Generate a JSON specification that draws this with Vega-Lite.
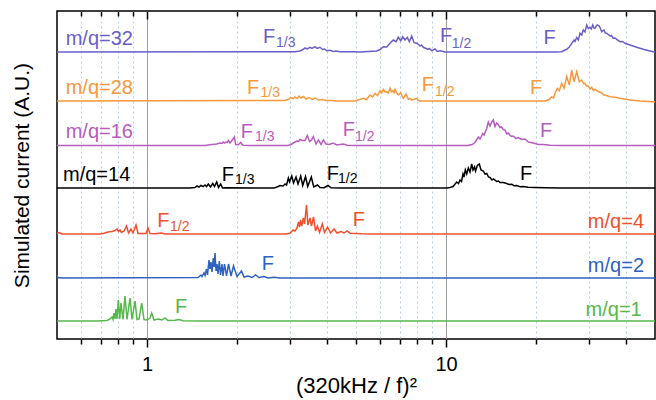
{
"$schema":"https://vega.github.io/schema/vega-lite/v6.json",
"width":598,"height":328,
"autosize":{"type":"none"},
"padding":{"left":57,"top":11,"right":1,"bottom":61},
"background":"white",
"config":{"font":"Liberation Sans","view":{"stroke":"black","strokeWidth":1.5},"text":{"font":"Liberation Sans"}},
"datasets":{
"curves":[
{"s":"m/q=1","x":0.5,"v":18},{"s":"m/q=1","x":0.68,"v":18},{"s":"m/q=1","x":0.735,"v":18.5},{"s":"m/q=1","x":0.752,"v":20},{"s":"m/q=1","x":0.7637,"v":22},{"s":"m/q=1","x":0.7697,"v":19.5},{"s":"m/q=1","x":0.7756,"v":26},{"s":"m/q=1","x":0.7816,"v":20},{"s":"m/q=1","x":0.7876,"v":30},{"s":"m/q=1","x":0.7937,"v":20},{"s":"m/q=1","x":0.8017,"v":39},{"s":"m/q=1","x":0.8104,"v":20},{"s":"m/q=1","x":0.8185,"v":36},{"s":"m/q=1","x":0.8312,"v":19.5},{"s":"m/q=1","x":0.8441,"v":43},{"s":"m/q=1","x":0.8572,"v":19.5},{"s":"m/q=1","x":0.8773,"v":41},{"s":"m/q=1","x":0.8909,"v":19.5},{"s":"m/q=1","x":0.9118,"v":38},{"s":"m/q=1","x":0.9259,"v":19.5},{"s":"m/q=1","x":0.9404,"v":20},{"s":"m/q=1","x":0.96,"v":36},{"s":"m/q=1","x":0.9771,"v":19.5},{"s":"m/q=1","x":1.0,"v":19},{"s":"m/q=1","x":1.0234,"v":21},{"s":"m/q=1","x":1.0369,"v":26},{"s":"m/q=1","x":1.0554,"v":19},{"s":"m/q=1","x":1.0884,"v":20},{"s":"m/q=1","x":1.1226,"v":19},{"s":"m/q=1","x":1.1487,"v":21},{"s":"m/q=1","x":1.1755,"v":18.5},{"s":"m/q=1","x":1.2407,"v":18.8},{"s":"m/q=1","x":1.2795,"v":19.5},{"s":"m/q=1","x":1.32,"v":18.3},{"s":"m/q=1","x":1.5,"v":18},{"s":"m/q=1","x":50,"v":18},
{"s":"m/q=2","x":0.5,"v":64},{"s":"m/q=2","x":0.503,"v":61.5},{"s":"m/q=2","x":0.52,"v":61},{"s":"m/q=2","x":1.481,"v":61.5},{"s":"m/q=2","x":1.5157,"v":64},{"s":"m/q=2","x":1.5275,"v":62.5},{"s":"m/q=2","x":1.551,"v":66},{"s":"m/q=2","x":1.5631,"v":63.5},{"s":"m/q=2","x":1.5812,"v":70},{"s":"m/q=2","x":1.5934,"v":64},{"s":"m/q=2","x":1.6119,"v":79},{"s":"m/q=2","x":1.6245,"v":70},{"s":"m/q=2","x":1.637,"v":77},{"s":"m/q=2","x":1.6497,"v":67},{"s":"m/q=2","x":1.6662,"v":81},{"s":"m/q=2","x":1.6778,"v":72},{"s":"m/q=2","x":1.6883,"v":86},{"s":"m/q=2","x":1.7013,"v":68},{"s":"m/q=2","x":1.7144,"v":75},{"s":"m/q=2","x":1.7276,"v":65},{"s":"m/q=2","x":1.7451,"v":78},{"s":"m/q=2","x":1.7612,"v":64},{"s":"m/q=2","x":1.7818,"v":75},{"s":"m/q=2","x":1.7955,"v":63},{"s":"m/q=2","x":1.8164,"v":75},{"s":"m/q=2","x":1.8445,"v":63},{"s":"m/q=2","x":1.8732,"v":75},{"s":"m/q=2","x":1.9097,"v":63},{"s":"m/q=2","x":1.9467,"v":73},{"s":"m/q=2","x":2.0,"v":62.5},{"s":"m/q=2","x":2.0706,"v":68},{"s":"m/q=2","x":2.1108,"v":62},{"s":"m/q=2","x":2.1767,"v":63},{"s":"m/q=2","x":2.2449,"v":61.5},{"s":"m/q=2","x":2.3063,"v":64},{"s":"m/q=2","x":2.3692,"v":61.5},{"s":"m/q=2","x":2.4624,"v":62.5},{"s":"m/q=2","x":2.5394,"v":61},{"s":"m/q=2","x":2.6598,"v":61.8},{"s":"m/q=2","x":2.7857,"v":61},{"s":"m/q=2","x":50,"v":61},
{"s":"m/q=4","x":0.5,"v":105.5},{"s":"m/q=4","x":0.5078,"v":106.5},{"s":"m/q=4","x":0.5196,"v":105},{"s":"m/q=4","x":0.6964,"v":105},{"s":"m/q=4","x":0.7182,"v":105.8},{"s":"m/q=4","x":0.7406,"v":107},{"s":"m/q=4","x":0.7637,"v":107.5},{"s":"m/q=4","x":0.7816,"v":108.5},{"s":"m/q=4","x":0.7937,"v":110},{"s":"m/q=4","x":0.8029,"v":107.5},{"s":"m/q=4","x":0.8123,"v":109},{"s":"m/q=4","x":0.8217,"v":106.5},{"s":"m/q=4","x":0.8377,"v":108},{"s":"m/q=4","x":0.8539,"v":113},{"s":"m/q=4","x":0.8671,"v":106},{"s":"m/q=4","x":0.884,"v":110},{"s":"m/q=4","x":0.8977,"v":106},{"s":"m/q=4","x":0.9188,"v":114},{"s":"m/q=4","x":0.933,"v":105.5},{"s":"m/q=4","x":0.9923,"v":105.5},{"s":"m/q=4","x":1.0077,"v":111},{"s":"m/q=4","x":1.0234,"v":105.5},{"s":"m/q=4","x":1.0636,"v":105.2},{"s":"m/q=4","x":1.1182,"v":106},{"s":"m/q=4","x":1.1487,"v":105},{"s":"m/q=4","x":2.9175,"v":105},{"s":"m/q=4","x":3.0088,"v":105.8},{"s":"m/q=4","x":3.0791,"v":109},{"s":"m/q=4","x":3.1265,"v":108},{"s":"m/q=4","x":3.175,"v":111},{"s":"m/q=4","x":3.2118,"v":117},{"s":"m/q=4","x":3.2369,"v":112},{"s":"m/q=4","x":3.262,"v":119},{"s":"m/q=4","x":3.2921,"v":113},{"s":"m/q=4","x":3.3328,"v":121},{"s":"m/q=4","x":3.3639,"v":115},{"s":"m/q=4","x":3.4157,"v":134},{"s":"m/q=4","x":3.4503,"v":114},{"s":"m/q=4","x":3.5092,"v":121},{"s":"m/q=4","x":3.55,"v":113},{"s":"m/q=4","x":3.6049,"v":122},{"s":"m/q=4","x":3.6615,"v":108},{"s":"m/q=4","x":3.7125,"v":113},{"s":"m/q=4","x":3.7762,"v":106.5},{"s":"m/q=4","x":3.8585,"v":115},{"s":"m/q=4","x":3.9235,"v":106.5},{"s":"m/q=4","x":4.0155,"v":112},{"s":"m/q=4","x":4.1096,"v":106},{"s":"m/q=4","x":4.2212,"v":110},{"s":"m/q=4","x":4.32,"v":106},{"s":"m/q=4","x":4.4552,"v":107.5},{"s":"m/q=4","x":4.5593,"v":106},{"s":"m/q=4","x":4.666,"v":108},{"s":"m/q=4","x":4.7752,"v":105.8},{"s":"m/q=4","x":5.0015,"v":105.5},{"s":"m/q=4","x":5.2381,"v":105.2},{"s":"m/q=4","x":5.5704,"v":105},{"s":"m/q=4","x":50,"v":105},
{"s":"m/q=14","x":0.5,"v":151},{"s":"m/q=14","x":1.3926,"v":151},{"s":"m/q=14","x":1.4473,"v":151.5},{"s":"m/q=14","x":1.4697,"v":153},{"s":"m/q=14","x":1.4925,"v":152},{"s":"m/q=14","x":1.5157,"v":153.5},{"s":"m/q=14","x":1.5392,"v":152.5},{"s":"m/q=14","x":1.5631,"v":154},{"s":"m/q=14","x":1.5812,"v":152.5},{"s":"m/q=14","x":1.6033,"v":155},{"s":"m/q=14","x":1.6308,"v":152},{"s":"m/q=14","x":1.6586,"v":155.5},{"s":"m/q=14","x":1.6817,"v":152.5},{"s":"m/q=14","x":1.7105,"v":157},{"s":"m/q=14","x":1.7343,"v":151.5},{"s":"m/q=14","x":1.764,"v":155},{"s":"m/q=14","x":1.7886,"v":151},{"s":"m/q=14","x":1.8375,"v":151.2},{"s":"m/q=14","x":2.6598,"v":151},{"s":"m/q=14","x":2.722,"v":152},{"s":"m/q=14","x":2.7857,"v":153.5},{"s":"m/q=14","x":2.8508,"v":153},{"s":"m/q=14","x":2.8951,"v":155},{"s":"m/q=14","x":2.9286,"v":154},{"s":"m/q=14","x":2.9697,"v":161},{"s":"m/q=14","x":2.9973,"v":157},{"s":"m/q=14","x":3.0485,"v":163},{"s":"m/q=14","x":3.0908,"v":156},{"s":"m/q=14","x":3.1507,"v":162},{"s":"m/q=14","x":3.1995,"v":155},{"s":"m/q=14","x":3.2668,"v":163},{"s":"m/q=14","x":3.3176,"v":153.5},{"s":"m/q=14","x":3.3897,"v":162.5},{"s":"m/q=14","x":3.4475,"v":152.5},{"s":"m/q=14","x":3.5446,"v":162},{"s":"m/q=14","x":3.6107,"v":152},{"s":"m/q=14","x":3.7184,"v":154},{"s":"m/q=14","x":3.7906,"v":151.5},{"s":"m/q=14","x":3.9086,"v":151.3},{"s":"m/q=14","x":4.0308,"v":153.5},{"s":"m/q=14","x":4.1252,"v":151.2},{"s":"m/q=14","x":4.4211,"v":151},{"s":"m/q=14","x":10.077,"v":151},{"s":"m/q=14","x":10.313,"v":151.5},{"s":"m/q=14","x":10.554,"v":152.5},{"s":"m/q=14","x":10.859,"v":157},{"s":"m/q=14","x":11.01,"v":155.5},{"s":"m/q=14","x":11.138,"v":159},{"s":"m/q=14","x":11.268,"v":157.5},{"s":"m/q=14","x":11.399,"v":165},{"s":"m/q=14","x":11.487,"v":162},{"s":"m/q=14","x":11.602,"v":169},{"s":"m/q=14","x":11.728,"v":165},{"s":"m/q=14","x":11.874,"v":171},{"s":"m/q=14","x":12.03,"v":167},{"s":"m/q=14","x":12.189,"v":175},{"s":"m/q=14","x":12.311,"v":169},{"s":"m/q=14","x":12.454,"v":172},{"s":"m/q=14","x":12.551,"v":168},{"s":"m/q=14","x":12.726,"v":173.5},{"s":"m/q=14","x":12.923,"v":175},{"s":"m/q=14","x":13.094,"v":169},{"s":"m/q=14","x":13.328,"v":168},{"s":"m/q=14","x":13.503,"v":165},{"s":"m/q=14","x":13.681,"v":165.5},{"s":"m/q=14","x":13.872,"v":162},{"s":"m/q=14","x":14.033,"v":161.5},{"s":"m/q=14","x":14.251,"v":159},{"s":"m/q=14","x":14.417,"v":160},{"s":"m/q=14","x":14.776,"v":157.5},{"s":"m/q=14","x":14.983,"v":158},{"s":"m/q=14","x":15.157,"v":156.5},{"s":"m/q=14","x":15.547,"v":156.5},{"s":"m/q=14","x":15.959,"v":155.5},{"s":"m/q=14","x":16.244,"v":154.5},{"s":"m/q=14","x":16.586,"v":154.8},{"s":"m/q=14","x":16.882,"v":153.3},{"s":"m/q=14","x":17.237,"v":153.5},{"s":"m/q=14","x":17.681,"v":152.3},{"s":"m/q=14","x":18.136,"v":152.5},{"s":"m/q=14","x":18.804,"v":151.8},{"s":"m/q=14","x":19.845,"v":151.5},{"s":"m/q=14","x":21.434,"v":151.2},{"s":"m/q=14","x":24.059,"v":151},{"s":"m/q=14","x":50,"v":151},
{"s":"m/q=16","x":0.5,"v":193.5},{"s":"m/q=16","x":1.5631,"v":193.5},{"s":"m/q=16","x":1.6245,"v":194.2},{"s":"m/q=16","x":1.7105,"v":195},{"s":"m/q=16","x":1.7545,"v":196},{"s":"m/q=16","x":1.7818,"v":195.5},{"s":"m/q=16","x":1.7996,"v":197},{"s":"m/q=16","x":1.8192,"v":196},{"s":"m/q=16","x":1.8375,"v":197},{"s":"m/q=16","x":1.8545,"v":196.5},{"s":"m/q=16","x":1.8704,"v":198.5},{"s":"m/q=16","x":1.895,"v":196},{"s":"m/q=16","x":1.9348,"v":199.5},{"s":"m/q=16","x":1.9587,"v":202},{"s":"m/q=16","x":1.98,"v":194.5},{"s":"m/q=16","x":2.0202,"v":194.2},{"s":"m/q=16","x":2.0578,"v":196.5},{"s":"m/q=16","x":2.0866,"v":194},{"s":"m/q=16","x":2.1108,"v":193.8},{"s":"m/q=16","x":2.2105,"v":193.5},{"s":"m/q=16","x":2.9626,"v":193.5},{"s":"m/q=16","x":3.032,"v":194.5},{"s":"m/q=16","x":3.0861,"v":196},{"s":"m/q=16","x":3.1677,"v":198},{"s":"m/q=16","x":3.2118,"v":197.5},{"s":"m/q=16","x":3.2493,"v":199.5},{"s":"m/q=16","x":3.3125,"v":198.5},{"s":"m/q=16","x":3.3767,"v":198.5},{"s":"m/q=16","x":3.4369,"v":203.5},{"s":"m/q=16","x":3.4959,"v":197.5},{"s":"m/q=16","x":3.55,"v":199},{"s":"m/q=16","x":3.5994,"v":202.5},{"s":"m/q=16","x":3.6757,"v":195},{"s":"m/q=16","x":3.7414,"v":199},{"s":"m/q=16","x":3.82,"v":194.5},{"s":"m/q=16","x":3.8877,"v":199},{"s":"m/q=16","x":3.9694,"v":195},{"s":"m/q=16","x":4.0716,"v":194.5},{"s":"m/q=16","x":4.1889,"v":196},{"s":"m/q=16","x":4.31,"v":194},{"s":"m/q=16","x":4.535,"v":195},{"s":"m/q=16","x":4.666,"v":193.8},{"s":"m/q=16","x":4.9631,"v":193.5},{"s":"m/q=16","x":11.846,"v":193.5},{"s":"m/q=16","x":12.217,"v":194.5},{"s":"m/q=16","x":12.502,"v":196.5},{"s":"m/q=16","x":12.824,"v":202},{"s":"m/q=16","x":12.993,"v":200},{"s":"m/q=16","x":13.266,"v":205.5},{"s":"m/q=16","x":13.4,"v":204},{"s":"m/q=16","x":13.681,"v":210.5},{"s":"m/q=16","x":13.851,"v":217},{"s":"m/q=16","x":14.033,"v":213},{"s":"m/q=16","x":14.218,"v":217},{"s":"m/q=16","x":14.394,"v":219},{"s":"m/q=16","x":14.584,"v":212.5},{"s":"m/q=16","x":14.776,"v":216},{"s":"m/q=16","x":14.96,"v":214.5},{"s":"m/q=16","x":15.157,"v":211.5},{"s":"m/q=16","x":15.333,"v":212},{"s":"m/q=16","x":15.547,"v":209.5},{"s":"m/q=16","x":15.751,"v":209},{"s":"m/q=16","x":15.959,"v":205},{"s":"m/q=16","x":16.182,"v":206},{"s":"m/q=16","x":16.37,"v":203.5},{"s":"m/q=16","x":16.586,"v":202.5},{"s":"m/q=16","x":16.791,"v":203},{"s":"m/q=16","x":17.144,"v":200.5},{"s":"m/q=16","x":17.451,"v":201.5},{"s":"m/q=16","x":17.912,"v":199.5},{"s":"m/q=16","x":18.375,"v":200},{"s":"m/q=16","x":18.848,"v":197},{"s":"m/q=16","x":19.588,"v":196},{"s":"m/q=16","x":20.357,"v":194.5},{"s":"m/q=16","x":21.157,"v":194.5},{"s":"m/q=16","x":22.275,"v":193.7},{"s":"m/q=16","x":24.059,"v":193.5},{"s":"m/q=16","x":50,"v":193.5},
{"s":"m/q=28","x":0.5,"v":238},{"s":"m/q=28","x":2.8951,"v":238.5},{"s":"m/q=28","x":2.9626,"v":239.5},{"s":"m/q=28","x":3.032,"v":241.5},{"s":"m/q=28","x":3.0791,"v":240.5},{"s":"m/q=28","x":3.1265,"v":242},{"s":"m/q=28","x":3.175,"v":240.5},{"s":"m/q=28","x":3.2243,"v":243},{"s":"m/q=28","x":3.2744,"v":241},{"s":"m/q=28","x":3.3379,"v":242.5},{"s":"m/q=28","x":3.4028,"v":240},{"s":"m/q=28","x":3.4822,"v":241.5},{"s":"m/q=28","x":3.5638,"v":239.5},{"s":"m/q=28","x":3.6475,"v":241},{"s":"m/q=28","x":3.7325,"v":239},{"s":"m/q=28","x":3.8495,"v":239.5},{"s":"m/q=28","x":3.9694,"v":238.5},{"s":"m/q=28","x":4.1567,"v":238.5},{"s":"m/q=28","x":4.287,"v":238},{"s":"m/q=28","x":4.9631,"v":238},{"s":"m/q=28","x":5.2896,"v":240.7},{"s":"m/q=28","x":5.422,"v":239.5},{"s":"m/q=28","x":5.5704,"v":244},{"s":"m/q=28","x":5.6787,"v":242},{"s":"m/q=28","x":5.7892,"v":245.7},{"s":"m/q=28","x":5.9019,"v":243.5},{"s":"m/q=28","x":6.0166,"v":248.3},{"s":"m/q=28","x":6.096,"v":246},{"s":"m/q=28","x":6.1717,"v":249.7},{"s":"m/q=28","x":6.2531,"v":247},{"s":"m/q=28","x":6.3354,"v":247.3},{"s":"m/q=28","x":6.4141,"v":246},{"s":"m/q=28","x":6.4986,"v":250.7},{"s":"m/q=28","x":6.564,"v":247},{"s":"m/q=28","x":6.6351,"v":248.3},{"s":"m/q=28","x":6.7012,"v":246.5},{"s":"m/q=28","x":6.7533,"v":249.7},{"s":"m/q=28","x":6.8423,"v":246},{"s":"m/q=28","x":6.9273,"v":244},{"s":"m/q=28","x":7.0562,"v":246.3},{"s":"m/q=28","x":7.1275,"v":243},{"s":"m/q=28","x":7.1988,"v":240.7},{"s":"m/q=28","x":7.3504,"v":245},{"s":"m/q=28","x":7.4818,"v":239.7},{"s":"m/q=28","x":7.5803,"v":240.5},{"s":"m/q=28","x":7.6803,"v":239},{"s":"m/q=28","x":7.8171,"v":239.5},{"s":"m/q=28","x":7.9816,"v":240.7},{"s":"m/q=28","x":8.0928,"v":238.5},{"s":"m/q=28","x":8.1872,"v":238},{"s":"m/q=28","x":8.9796,"v":238},{"s":"m/q=28","x":21.434,"v":238},{"s":"m/q=28","x":21.717,"v":238.5},{"s":"m/q=28","x":22.106,"v":239.5},{"s":"m/q=28","x":22.568,"v":242.3},{"s":"m/q=28","x":22.883,"v":241},{"s":"m/q=28","x":23.149,"v":245.7},{"s":"m/q=28","x":23.563,"v":250.7},{"s":"m/q=28","x":23.929,"v":248.3},{"s":"m/q=28","x":24.375,"v":255.7},{"s":"m/q=28","x":24.811,"v":250.7},{"s":"m/q=28","x":25.333,"v":262.3},{"s":"m/q=28","x":25.845,"v":254},{"s":"m/q=28","x":26.327,"v":269},{"s":"m/q=28","x":26.798,"v":257.3},{"s":"m/q=28","x":27.361,"v":267.3},{"s":"m/q=28","x":27.914,"v":257.3},{"s":"m/q=28","x":28.435,"v":259},{"s":"m/q=28","x":28.832,"v":255.5},{"s":"m/q=28","x":29.167,"v":255.7},{"s":"m/q=28","x":29.506,"v":253},{"s":"m/q=28","x":29.918,"v":253},{"s":"m/q=28","x":30.312,"v":250},{"s":"m/q=28","x":30.712,"v":251.7},{"s":"m/q=28","x":31.14,"v":248.5},{"s":"m/q=28","x":31.502,"v":249.7},{"s":"m/q=28","x":32.313,"v":247.3},{"s":"m/q=28","x":33.17,"v":246.3},{"s":"m/q=28","x":33.634,"v":244},{"s":"m/q=28","x":34.024,"v":244},{"s":"m/q=28","x":35.359,"v":242.3},{"s":"m/q=28","x":36.748,"v":241.7},{"s":"m/q=28","x":38.19,"v":240.7},{"s":"m/q=28","x":41.247,"v":239},{"s":"m/q=28","x":44.548,"v":238},{"s":"m/q=28","x":49.24,"v":237.3},{"s":"m/q=28","x":50,"v":237.3},
{"s":"m/q=32","x":0.5,"v":287},{"s":"m/q=32","x":3.1265,"v":287.3},{"s":"m/q=32","x":3.2493,"v":288},{"s":"m/q=32","x":3.3252,"v":289.5},{"s":"m/q=32","x":3.3767,"v":291},{"s":"m/q=32","x":3.429,"v":290},{"s":"m/q=32","x":3.5092,"v":291.7},{"s":"m/q=32","x":3.5638,"v":290.5},{"s":"m/q=32","x":3.6475,"v":292.3},{"s":"m/q=32","x":3.704,"v":290.5},{"s":"m/q=32","x":3.7906,"v":291.7},{"s":"m/q=32","x":3.8644,"v":289.5},{"s":"m/q=32","x":3.9235,"v":290},{"s":"m/q=32","x":3.9908,"v":288.3},{"s":"m/q=32","x":4.0936,"v":288.7},{"s":"m/q=32","x":4.1986,"v":287.5},{"s":"m/q=32","x":4.287,"v":288},{"s":"m/q=32","x":4.4211,"v":287.3},{"s":"m/q=32","x":4.887,"v":287.3},{"s":"m/q=32","x":5.1579,"v":287},{"s":"m/q=32","x":5.8655,"v":288},{"s":"m/q=32","x":6.0166,"v":289.5},{"s":"m/q=32","x":6.1717,"v":292.3},{"s":"m/q=32","x":6.3354,"v":292},{"s":"m/q=32","x":6.4986,"v":295.7},{"s":"m/q=32","x":6.6656,"v":299},{"s":"m/q=32","x":6.8056,"v":297.3},{"s":"m/q=32","x":6.9273,"v":301.7},{"s":"m/q=32","x":7.0562,"v":298.3},{"s":"m/q=32","x":7.1659,"v":302.3},{"s":"m/q=32","x":7.2939,"v":299},{"s":"m/q=32","x":7.424,"v":301.7},{"s":"m/q=32","x":7.5396,"v":297.3},{"s":"m/q=32","x":7.6803,"v":303},{"s":"m/q=32","x":7.8171,"v":296.3},{"s":"m/q=32","x":7.9816,"v":295.7},{"s":"m/q=32","x":8.0928,"v":294.5},{"s":"m/q=32","x":8.1872,"v":293},{"s":"m/q=32","x":8.2824,"v":294},{"s":"m/q=32","x":8.3976,"v":291.7},{"s":"m/q=32","x":8.6867,"v":289.7},{"s":"m/q=32","x":8.7739,"v":290.5},{"s":"m/q=32","x":8.9588,"v":288.3},{"s":"m/q=32","x":9.1896,"v":290},{"s":"m/q=32","x":9.3535,"v":287.5},{"s":"m/q=32","x":9.5504,"v":288.3},{"s":"m/q=32","x":9.9236,"v":287},{"s":"m/q=32","x":23.149,"v":287},{"s":"m/q=32","x":24.375,"v":287.3},{"s":"m/q=32","x":24.811,"v":288.5},{"s":"m/q=32","x":25.333,"v":289.7},{"s":"m/q=32","x":25.845,"v":292},{"s":"m/q=32","x":26.327,"v":295.7},{"s":"m/q=32","x":26.798,"v":299},{"s":"m/q=32","x":27.005,"v":297.5},{"s":"m/q=32","x":27.361,"v":301.5},{"s":"m/q=32","x":27.7,"v":299},{"s":"m/q=32","x":28.065,"v":305.7},{"s":"m/q=32","x":28.435,"v":304},{"s":"m/q=32","x":28.787,"v":309},{"s":"m/q=32","x":29.167,"v":307},{"s":"m/q=32","x":29.551,"v":314},{"s":"m/q=32","x":29.918,"v":310.5},{"s":"m/q=32","x":30.312,"v":311.7},{"s":"m/q=32","x":30.617,"v":310},{"s":"m/q=32","x":30.949,"v":314},{"s":"m/q=32","x":31.26,"v":311},{"s":"m/q=32","x":31.502,"v":310.7},{"s":"m/q=32","x":31.794,"v":313},{"s":"m/q=32","x":32.065,"v":314},{"s":"m/q=32","x":32.563,"v":313},{"s":"m/q=32","x":33.17,"v":307.3},{"s":"m/q=32","x":33.503,"v":308.5},{"s":"m/q=32","x":33.762,"v":309},{"s":"m/q=32","x":34.102,"v":306},{"s":"m/q=32","x":34.472,"v":305.7},{"s":"m/q=32","x":34.899,"v":304.5},{"s":"m/q=32","x":35.359,"v":303},{"s":"m/q=32","x":35.77,"v":303.5},{"s":"m/q=32","x":36.269,"v":300.7},{"s":"m/q=32","x":36.748,"v":301},{"s":"m/q=32","x":37.232,"v":299.7},{"s":"m/q=32","x":38.19,"v":297.3},{"s":"m/q=32","x":38.935,"v":297.5},{"s":"m/q=32","x":39.692,"v":295.7},{"s":"m/q=32","x":41.247,"v":294},{"s":"m/q=32","x":43.43,"v":291.7},{"s":"m/q=32","x":45.697,"v":289.7},{"s":"m/q=32","x":47.381,"v":288.5},{"s":"m/q=32","x":49.354,"v":287.3},{"s":"m/q=32","x":50,"v":287}
],
"labels":[
{"s":"m/q=32","t":"m/q=32","k":"L","x":0.5347,"v":300},
{"s":"m/q=32","t":"F","k":"L","x":2.4434,"v":302},
{"s":"m/q=32","t":"F","k":"L","x":9.5483,"v":303},
{"s":"m/q=32","t":"F","k":"L","x":21.189,"v":301},
{"s":"m/q=28","t":"m/q=28","k":"L","x":0.5347,"v":251},
{"s":"m/q=28","t":"F","k":"L","x":2.16,"v":251},
{"s":"m/q=28","t":"F","k":"L","x":8.2941,"v":254.5},
{"s":"m/q=28","t":"F","k":"L","x":19.096,"v":251},
{"s":"m/q=16","t":"m/q=16","k":"L","x":0.5347,"v":207},
{"s":"m/q=16","t":"F","k":"L","x":2.0578,"v":207.5},
{"s":"m/q=16","t":"F","k":"L","x":4.5139,"v":209},
{"s":"m/q=16","t":"F","k":"L","x":20.625,"v":208},
{"s":"m/q=14","t":"m/q=14","k":"L","x":0.5236,"v":164},
{"s":"m/q=14","t":"F","k":"L","x":1.7777,"v":164},
{"s":"m/q=14","t":"F","k":"L","x":3.9908,"v":165},
{"s":"m/q=14","t":"F","k":"L","x":17.681,"v":165},
{"s":"m/q=4","t":"F","k":"L","x":1.0826,"v":118.5},
{"s":"m/q=4","t":"F","k":"L","x":4.8757,"v":119},
{"s":"m/q=2","t":"F","k":"L","x":2.4191,"v":75},
{"s":"m/q=1","t":"F","k":"L","x":1.2407,"v":32.5},
{"s":"m/q=4","t":"m/q=4","k":"R","x":45.945,"v":117},
{"s":"m/q=2","t":"m/q=2","k":"R","x":45.945,"v":73},
{"s":"m/q=1","t":"m/q=1","k":"R","x":45.138,"v":29},
{"s":"m/q=32","t":"1/3","k":"S","x":2.7012,"v":296},
{"s":"m/q=32","t":"1/2","k":"S","x":10.449,"v":295.5},
{"s":"m/q=28","t":"1/3","k":"S","x":2.3967,"v":246},
{"s":"m/q=28","t":"1/2","k":"S","x":9.1896,"v":247},
{"s":"m/q=16","t":"1/3","k":"S","x":2.2974,"v":202},
{"s":"m/q=16","t":"1/2","k":"S","x":4.9631,"v":202},
{"s":"m/q=14","t":"1/3","k":"S","x":1.9695,"v":159},
{"s":"m/q=14","t":"1/2","k":"S","x":4.3533,"v":160},
{"s":"m/q=4","t":"1/2","k":"S","x":1.1938,"v":112.3}
]
},
"layer":[
{"data":{"name":"curves"},
 "mark":{"type":"line","strokeWidth":1.5},
 "encoding":{
  "x":{"field":"x","type":"quantitative","scale":{"type":"log","domain":[0.5,50],"nice":false},
   "axis":{"orient":"bottom","values":[0.6,0.7,0.8,0.9,1,2,3,4,5,6,7,8,9,10,20,30,40],
    "labelExpr":"datum.value == 1 ? '1' : (datum.value == 10 ? '10' : '')",
    "labelFontSize":20,"labelColor":"black","labelPadding":7,"labelFlush":false,"labelOverlap":false,
    "tickColor":"black","tickWidth":1.5,
    "tickSize":{"condition":{"test":"datum.value == 1 || datum.value == 10","value":8},"value":5},
    "domain":false,"grid":true,
    "gridColor":{"condition":{"test":"datum.value == 1 || datum.value == 10","value":"#a0a0a0"},"value":"#b9cde2"},
    "gridDash":{"condition":{"test":"datum.value == 1 || datum.value == 10","value":[]},"value":[2,3]},
    "gridWidth":1,
    "title":"(320kHz / f)²","titleFontSize":22,"titleFontWeight":"normal","titleColor":"black","titlePadding":1}},
  "y":{"field":"v","type":"quantitative","scale":{"domain":[0,328],"nice":false,"zero":false},
   "axis":{"title":"Simulated current (A.U.)","titleFontSize":21,"titleFontWeight":"normal","titleColor":"black","labels":false,"ticks":false,"domain":false,"grid":false,"titlePadding":25}},
  "color":{"field":"s","type":"nominal","legend":null,
   "scale":{"domain":["m/q=32","m/q=28","m/q=16","m/q=14","m/q=4","m/q=2","m/q=1"],"range":["#6a5fc8","#f7983c","#b85cc0","#000000","#f0512c","#2f62c0","#55b84a"]}}
 }},
{"data":{"name":"labels"},
 "transform":[{"filter":"datum.k == 'L'"}],
 "mark":{"type":"text","fontSize":20,"align":"left","baseline":"middle"},
 "encoding":{
  "x":{"field":"x","type":"quantitative",
   "axis":{"orient":"top","values":[0.6,0.7,0.8,0.9,1,2,3,4,5,6,7,8,9,10,20,30,40],"labels":false,"domain":false,"grid":false,"title":null,
    "tickColor":"black","tickWidth":1.5,
    "tickSize":{"condition":{"test":"datum.value == 1 || datum.value == 10","value":-8},"value":-5}}},
  "y":{"field":"v","type":"quantitative","axis":null},
  "text":{"field":"t"},
  "color":{"field":"s","type":"nominal","legend":null}
 }},
{"data":{"name":"labels"},
 "transform":[{"filter":"datum.k == 'R'"}],
 "mark":{"type":"text","fontSize":20,"align":"right","baseline":"middle"},
 "encoding":{
  "x":{"field":"x","type":"quantitative","axis":null},
  "y":{"field":"v","type":"quantitative","axis":null},
  "text":{"field":"t"},
  "color":{"field":"s","type":"nominal","legend":null}
 }},
{"data":{"name":"labels"},
 "transform":[{"filter":"datum.k == 'S'"}],
 "mark":{"type":"text","fontSize":14,"align":"left","baseline":"middle"},
 "encoding":{
  "x":{"field":"x","type":"quantitative","axis":null},
  "y":{"field":"v","type":"quantitative","axis":null},
  "text":{"field":"t"},
  "color":{"field":"s","type":"nominal","legend":null}
 }}
],
"resolve":{"axis":{"x":"independent","y":"independent"}}
}
